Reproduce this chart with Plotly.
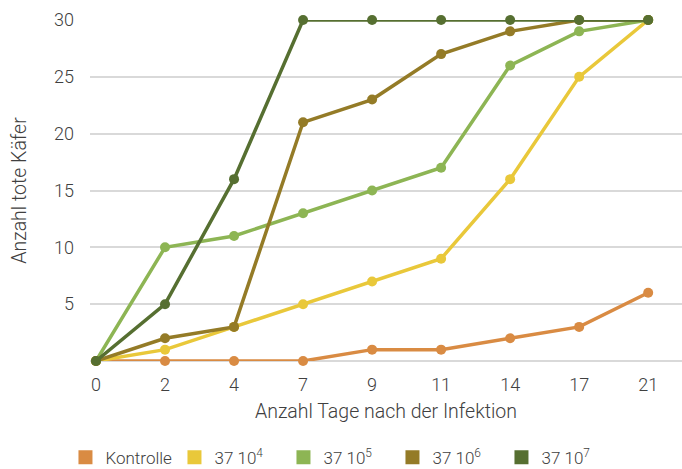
import plotly.graph_objects as go

days = ["0", "2", "4", "7", "9", "11", "14", "17", "21"]
kontrolle = [0, 0, 0, 0, 1, 1, 2, 3, 6]
s_1e4 = [0, 1, 3, 5, 7, 9, 16, 25, 30]
s_1e5 = [0, 10, 11, 13, 15, 17, 26, 29, 30]
s_1e6 = [0, 2, 3, 21, 23, 27, 29, 30, 30]
s_1e7 = [0, 5, 16, 30, 30, 30, 30, 30, 30]

names = ["Kontrolle", "37 10<sup>4</sup>", "37 10<sup>5</sup>", "37 10<sup>6</sup>", "37 10<sup>7</sup>"]
series = [kontrolle, s_1e4, s_1e5, s_1e6, s_1e7]
colors = ["#D98B43", "#E9C83A", "#8DB554", "#947B27", "#566F31"]

FONT = "Roboto"
TXT = "#404040"

fig = go.Figure()
for name, vals, col in zip(names, series, colors):
    fig.add_trace(go.Scatter(
        x=days, y=vals, mode="lines+markers", name=name, showlegend=False,
        line=dict(color=col, width=3.5), marker=dict(color=col, size=10),
        cliponaxis=False,
    ))
for name, col in zip(names, colors):
    fig.add_trace(go.Scatter(
        x=[None], y=[None], mode="markers", name=name,
        marker=dict(color=col, size=14, symbol="square"),
    ))

fig.update_layout(
    width=682, height=469,
    margin=dict(l=90, r=0, t=20, b=108),
    paper_bgcolor="white", plot_bgcolor="white",
    font=dict(family=FONT, size=18, color=TXT, weight=300),
    legend=dict(orientation="h", xref="container", x=0.096, xanchor="left",
                yref="container", y=0.024, yanchor="middle",
                font=dict(size=17, color=TXT), itemsizing="trace", itemwidth=30,
                entrywidth=64, entrywidthmode="pixels"),
    xaxis=dict(type="category", range=[-0.087, 8.49], showgrid=False, showline=False,
               ticks="", ticklabelstandoff=11,
               title=dict(text="Anzahl Tage nach der Infektion", standoff=10,
                          font=dict(size=19.5, color=TXT))),
    yaxis=dict(range=[0, 30], tickvals=[5, 10, 15, 20, 25, 30], showgrid=True,
               gridcolor="#d9d9d9", gridwidth=2, zeroline=True, zerolinecolor="#d9d9d9",
               zerolinewidth=2, showline=False, ticks="", ticklabelstandoff=15,
               title=dict(text="Anzahl tote Käfer", standoff=22,
                          font=dict(size=19.5, color=TXT))),
)

fig.write_html("out.html", config={"displayModeBar": False})
with open("out.html", encoding="utf-8") as f:
    html = f.read()
html = html.replace("<body>", '<body style="margin:0;padding:0;">', 1)
with open("out.html", "w", encoding="utf-8") as f:
    f.write(html)
